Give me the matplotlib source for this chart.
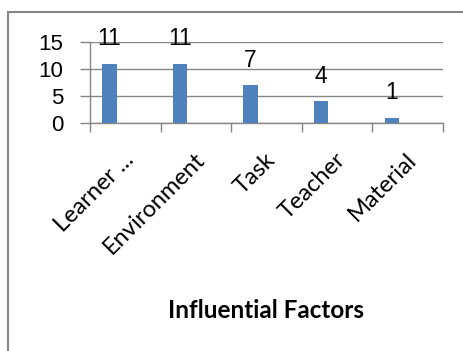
import matplotlib
matplotlib.use("Agg")
import matplotlib.pyplot as plt
from matplotlib.patches import Rectangle
import numpy as np

#---------------------DATA------------------------
factors = ["Learner ...", "Environment", "Task", "Teacher", "Material"]
counts = [11, 11, 7, 4, 1]
yticks = [0, 5, 10, 15]

#---------------------FIGURE----------------------
W, H = 464, 351
fig = plt.figure(figsize=(W / 100, H / 100), dpi=100)
ax = fig.add_axes([90 / W, 1 - 123 / H, (443 - 90) / W, (123 - 42) / H])

grey = "#868686"
x = np.arange(len(factors))

# bars sit left of the category centre (single series of a clustered chart)
ax.bar(x - 0.225, counts, width=0.205, color="#4F81BD", zorder=3)

for xi, v in zip(x, counts):
    ax.annotate(str(v), xy=(xi - 0.225, v), xytext=(0, 18), textcoords="offset points",
                ha="center", va="center", fontsize=16.5, family="Liberation Sans")

ax.set_xlim(-0.5, len(factors) - 0.5)
ax.set_ylim(0, 15)
ax.set_yticks(yticks)
ax.set_yticklabels([str(t) for t in yticks], fontsize=16, family="Liberation Sans")
ax.yaxis.grid(True, color=grey, linewidth=1)
ax.tick_params(axis="y", length=7.2, width=1, color=grey, pad=12)

# tick marks on category boundaries, labels drawn separately
ax.set_xticks(np.arange(len(factors) + 1) - 0.5)
ax.set_xticklabels([])
ax.tick_params(axis="x", length=6.5, width=1, color=grey)

for s in ["top", "right"]:
    ax.spines[s].set_visible(False)
for s in ["left", "bottom"]:
    ax.spines[s].set_color(grey)
    ax.spines[s].set_linewidth(1)

for xi, name in zip(x, factors):
    ax.annotate(name, xy=(xi, 0), xytext=(4, -24), textcoords="offset points",
                ha="right", va="center", rotation=45, rotation_mode="anchor",
                fontsize=17, family="Lato")

fig.text(266 / W, 1 - 310 / H, "Influential Factors", ha="center", va="center",
         fontsize=17.5, fontweight="bold", family="Lato")

# outer chart frame
fig.patches.append(Rectangle((8 / W, -0.1), 1.2, 1 - 12 / H + 0.1, transform=fig.transFigure,
                             fill=False, edgecolor=grey, linewidth=1.5))

fig.savefig("out.png", dpi=100)
